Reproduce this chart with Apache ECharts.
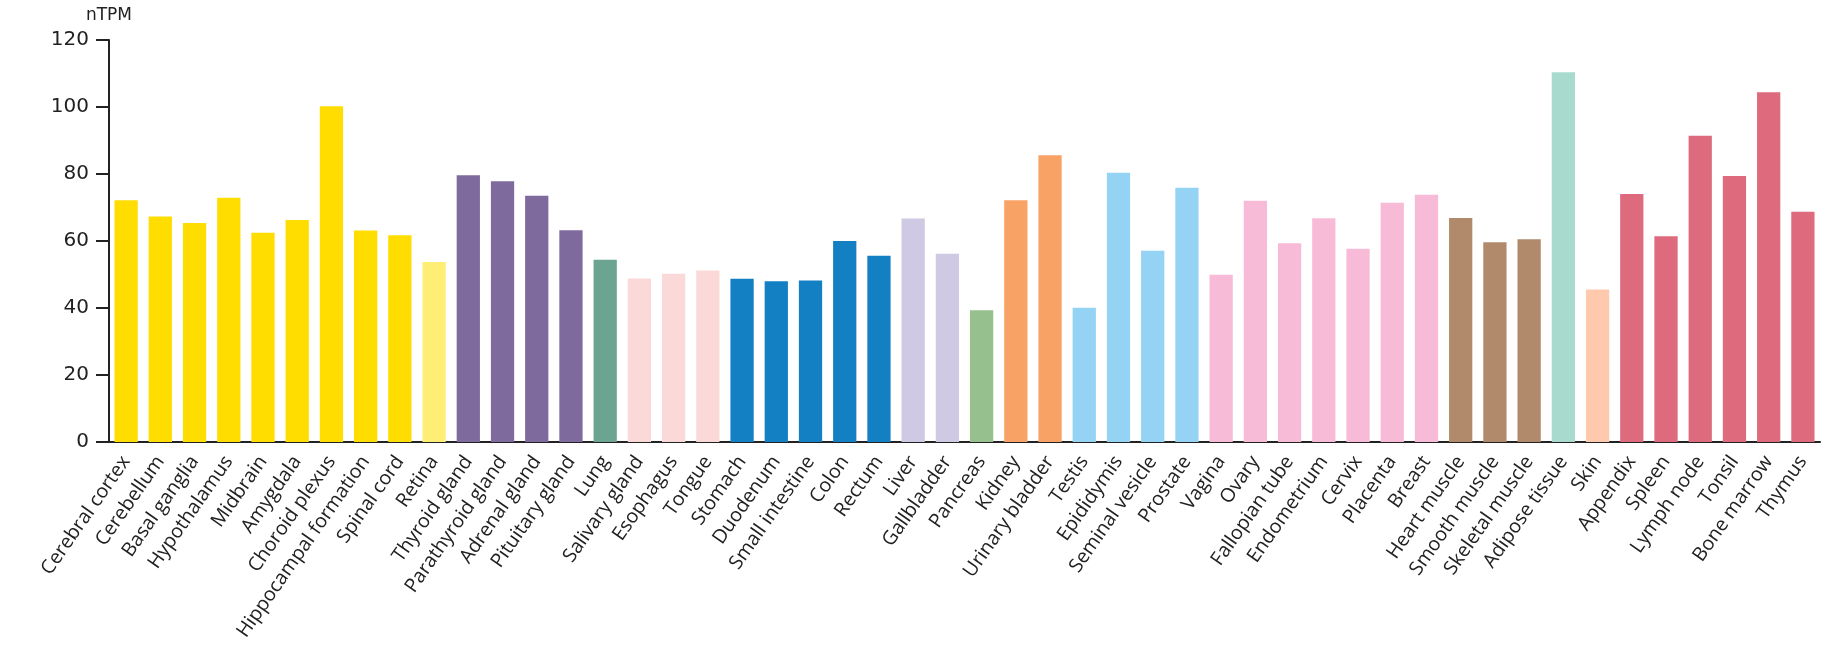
<!DOCTYPE html>
<html>
<head>
<meta charset="utf-8">
<script src="https://cdn.jsdelivr.net/npm/echarts@6/dist/echarts.min.js"></script>
<style>
html,body{margin:0;padding:0;background:#fff;}
#chart{width:1831px;height:646px;}
</style>
</head>
<body>
<div id="chart"></div>
<script>
const categories = ["Cerebral cortex","Cerebellum","Basal ganglia","Hypothalamus","Midbrain","Amygdala","Choroid plexus","Hippocampal formation","Spinal cord","Retina","Thyroid gland","Parathyroid gland","Adrenal gland","Pituitary gland","Lung","Salivary gland","Esophagus","Tongue","Stomach","Duodenum","Small intestine","Colon","Rectum","Liver","Gallbladder","Pancreas","Kidney","Urinary bladder","Testis","Epididymis","Seminal vesicle","Prostate","Vagina","Ovary","Fallopian tube","Endometrium","Cervix","Placenta","Breast","Heart muscle","Smooth muscle","Skeletal muscle","Adipose tissue","Skin","Appendix","Spleen","Lymph node","Tonsil","Bone marrow","Thymus"];
const values = [72.2,67.3,65.4,72.9,62.5,66.3,100.2,63.1,61.7,53.7,79.6,77.8,73.5,63.2,54.4,48.8,50.2,51.2,48.7,48.0,48.2,60.0,55.6,66.7,56.2,39.3,72.2,85.6,40.1,80.4,57.1,75.9,49.9,72.0,59.3,66.8,57.7,71.4,73.8,66.9,59.6,60.5,110.4,45.5,74.0,61.4,91.4,79.4,104.4,68.7];
const groups = ["brain","brain","brain","brain","brain","brain","brain","brain","brain","eye","endocrine","endocrine","endocrine","endocrine","lung","proximal","proximal","proximal","gi","gi","gi","gi","gi","liver","liver","pancreas","kidney","kidney","male","male","male","male","female","female","female","female","female","female","female","muscle","muscle","muscle","adipose","skin","lymphoid","lymphoid","lymphoid","lymphoid","lymphoid","lymphoid"];
const yTicks = [0,20,40,60,80,100,120];
const yName = "nTPM";

const palette = {
  brain:"#FFDD00", eye:"#FFEE75", endocrine:"#7F6A9E", lung:"#6BA592",
  proximal:"#FCD9D9", gi:"#1380C4", liver:"#D0C9E3", pancreas:"#96C08E",
  kidney:"#F9A266", male:"#95D3F5", female:"#F8BBD7", muscle:"#B18A6B",
  adipose:"#A8DBCD", skin:"#FFC9AE", lymphoid:"#DE6B7D"
};

const chart = echarts.init(document.getElementById('chart'));
const axisColor = '#222';
const textColor = '#222';
chart.setOption({
  animation:false,
  grid:{left:109,right:11,top:40,bottom:204,containLabel:false},
  xAxis:{
    type:'category',
    data:categories,
    axisLine:{lineStyle:{color:axisColor,width:2}},
    axisTick:{alignWithLabel:true,length:12,lineStyle:{color:axisColor,width:2}},
    axisLabel:{interval:0,rotate:55,margin:16,fontSize:19.5,color:textColor,fontFamily:'Open Sans'}
  },
  yAxis:{
    type:'value',
    min:yTicks[0],max:yTicks[yTicks.length-1],interval:20,
    name:yName,nameLocation:'end',nameGap:16,
    nameTextStyle:{fontSize:17,color:textColor,fontFamily:'DejaVu Sans'},
    axisLine:{show:true,lineStyle:{color:axisColor,width:2}},
    axisTick:{show:true,length:13,lineStyle:{color:axisColor,width:2}},
    axisLabel:{fontSize:20,color:textColor,margin:20,fontFamily:'DejaVu Sans'},
    splitLine:{show:false}
  },
  series:[{
    type:'bar',
    barWidth:'68%',
    data:values.map((v,i)=>({value:v,itemStyle:{color:palette[groups[i]]}}))
  }]
});
</script>
</body>
</html>
